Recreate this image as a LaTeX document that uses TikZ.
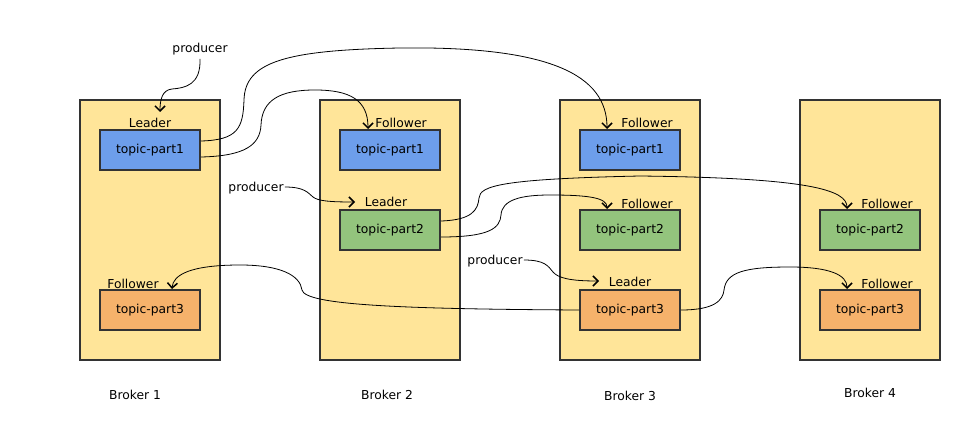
\documentclass[tikz,border=0pt]{standalone}
\usepackage{fontspec}
\setmainfont{DejaVu Sans}
\usetikzlibrary{arrows.meta}
\definecolor{brk}{HTML}{FFE599}
\definecolor{pblue}{HTML}{6D9EEB}
\definecolor{pgreen}{HTML}{93C47D}
\definecolor{porange}{HTML}{F6B26B}
\definecolor{edge}{HTML}{333333}
\begin{document}
\begin{tikzpicture}[x=1pt,y=-1pt,
  font=\fontsize{12.3}{14}\selectfont,
  broker/.style={draw=edge, line width=2pt, fill=brk, minimum width=140pt, minimum height=260pt, inner sep=0pt},
  part/.style={draw=edge, line width=2pt, minimum width=100pt, minimum height=40pt, inner sep=0pt},
  lbl/.style={anchor=base, inner sep=1pt},
  conn/.style={draw=black, line width=0.8pt, -{Straight Barb[length=5pt,width=10pt,line width=1.5pt]}},
  wire/.style={draw=black, line width=0.8pt}
]
\useasboundingbox (0,0) rectangle (960,422);

% brokers
\node[broker] (b1) at (150,230) {};
\node[broker] (b2) at (390,230) {};
\node[broker] (b3) at (630,230) {};
\node[broker] (b4) at (870,230) {};

% partitions
\node[part, fill=pblue]   (b1p1) at (150,150) {topic-part1};
\node[part, fill=porange] (b1p3) at (150,310) {topic-part3};
\node[part, fill=pblue]   (b2p1) at (390,150) {topic-part1};
\node[part, fill=pgreen]  (b2p2) at (390,230) {topic-part2};
\node[part, fill=pblue]   (b3p1) at (630,150) {topic-part1};
\node[part, fill=pgreen]  (b3p2) at (630,230) {topic-part2};
\node[part, fill=porange] (b3p3) at (630,310) {topic-part3};
\node[part, fill=pgreen]  (b4p2) at (870,230) {topic-part2};
\node[part, fill=porange] (b4p3) at (870,310) {topic-part3};

% role labels
\node[lbl] (r11) at (150,128) {Leader};
\node[lbl] (r13) at (133,288) {Follower};
\node[lbl] (r21) at (401,128) {Follower};
\node[lbl] (r22) at (386,206) {Leader};
\node[lbl] (r31) at (647,128) {Follower};
\node[lbl] (r32) at (647,208) {Follower};
\node[lbl] (r33) at (630,286) {Leader};
\node[lbl] (r42) at (887,208) {Follower};
\node[lbl] (r43) at (887,288) {Follower};

% broker labels
\node[lbl] (n1) at (135,399) {Broker 1};
\node[lbl] (n2) at (387,399) {Broker 2};
\node[lbl] (n3) at (630,400) {Broker 3};
\node[lbl] (n4) at (870,397) {Broker 4};

% producers
\node[lbl] (pr1) at (200,53) {producer};
\node[lbl] (pr2) at (256,191) {producer};
\node[lbl] (pr3) at (495,264) {producer};

\coordinate (t1) at (160,112);
\coordinate (t2) at (355,202);
\coordinate (t3) at (599,281);

\draw[conn] ([yshift=-2pt]pr1.south) .. controls (201,85) and (185,88) .. (172,89)
  .. controls (162,90) and (160,100) .. (t1);
\draw[conn] (pr2.east |- 0,187) .. controls (305,187) and (308,193) .. (313,197)
  .. controls (318,201) and (330,202) .. (t2);
\draw[conn] (pr3.east |- 0,260) .. controls (545,260) and (548,266) .. (553,272)
  .. controls (558,278) and (570,281) .. (t3);

% replication connectors
\draw[conn] ([yshift=9pt]b1p1.east) .. controls (238,140) and (243,128) .. (244,100)
  .. controls (245,62) and (285,50) .. (400,48)
  .. controls (550,46) and (607,75) .. ([xshift=-23pt]b3p1.north);
\draw[conn] ([yshift=-7pt]b1p1.east) .. controls (245,156) and (260,145) .. (261,125)
  .. controls (262,100) and (280,90) .. (315,90)
  .. controls (350,90) and (368,100) .. ([xshift=-22pt]b2p1.north);
\draw[conn] ([yshift=9pt]b2p2.east) .. controls (472,220) and (478,210) .. (479,198)
  .. controls (480,186) and (500,179) .. (640,176)
  .. controls (810,178) and (847,190) .. ([xshift=-23pt]b4p2.north);
\draw[conn] ([yshift=-7pt]b2p2.east) .. controls (490,237) and (500,228) .. (501,215)
  .. controls (502,200) and (520,195) .. (550,195)
  .. controls (590,195) and (607,198) .. ([xshift=-23pt]b3p2.north);
\draw[conn] (b3p3.east) .. controls (715,310) and (723,300) .. (724,290)
  .. controls (726,272) and (745,267) .. (790,267)
  .. controls (830,267) and (847,275) .. ([xshift=-23pt]b4p3.north);
\draw[conn] (b3p3.west) .. controls (400,309) and (305,305) .. (302,290)
  .. controls (300,275) and (280,265) .. (240,265)
  .. controls (190,265) and (173,275) .. ([xshift=22pt]b1p3.north);
\end{tikzpicture}
\end{document}
